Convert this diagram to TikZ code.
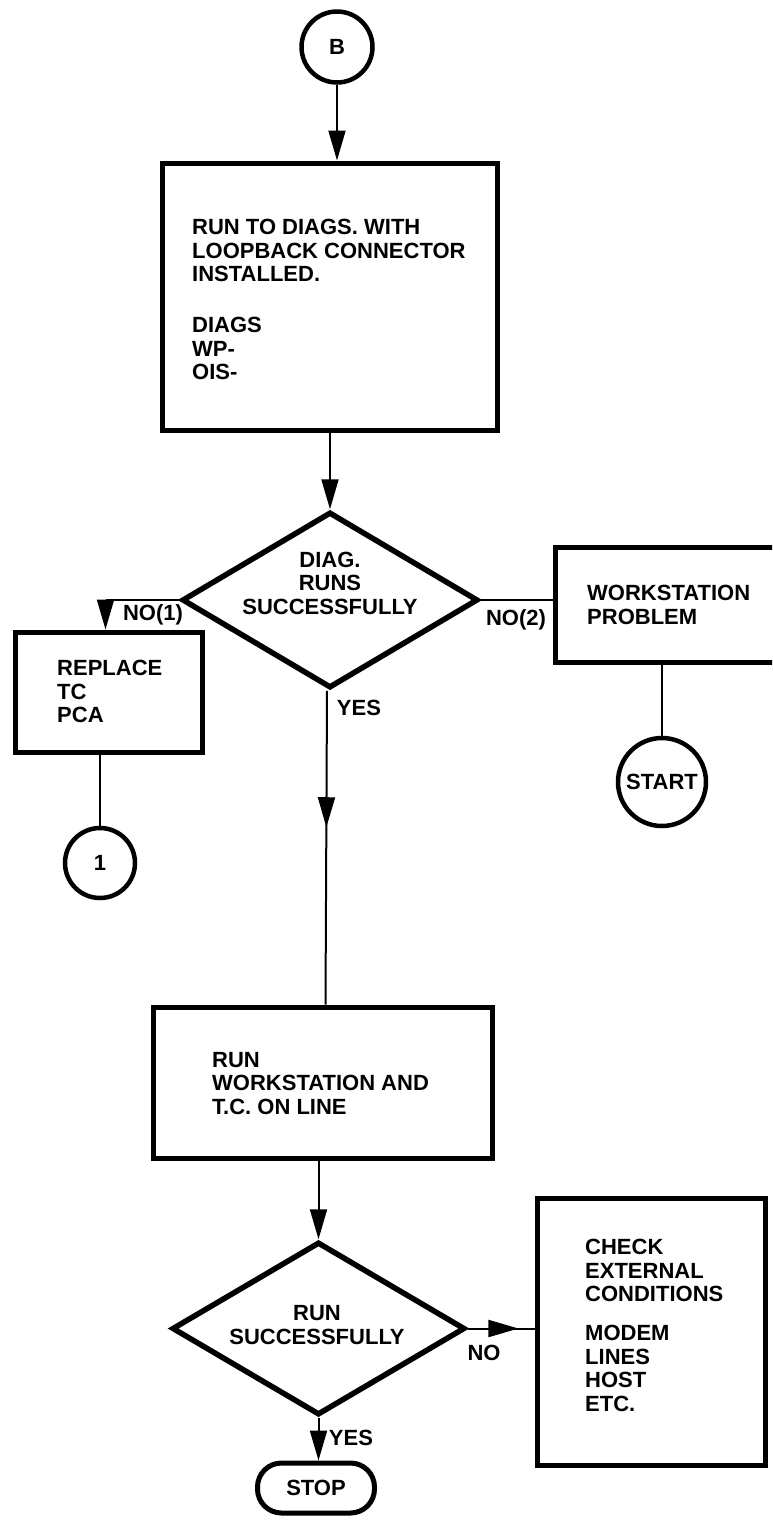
\documentclass[tikz,border=0pt]{standalone}
\usepackage{fontspec}
\setmainfont{Liberation Sans}
\usetikzlibrary{shapes.geometric,arrows.meta,decorations.markings}
\begin{document}
\begin{tikzpicture}[x=1pt,y=-1pt,
  tf/.style={font=\bfseries\fontsize{22}{23.5}\selectfont},
  txt/.style={tf, inner sep=0pt, align=left, anchor=north west},
  lbl/.style={tf, inner sep=0pt},
  boxstyle/.style={draw, line width=5pt, inner sep=0pt},
  dia/.style={diamond, draw, line width=5.5pt, inner sep=0pt},
  circ/.style={circle, draw, line width=4.5pt, inner sep=0pt, tf},
  conn/.style={line width=2pt},
  arrowconn/.style={line width=2pt, -{Triangle[length=30pt,width=17pt]}},
  midarrow/.style={line width=2pt, decoration={markings, mark=at position #1 with {\arrow{Triangle[length=30pt,width=17pt]}}}, postaction={decorate}}
]
\useasboundingbox (0,0) rectangle (772,1540);
\clip (0,0) rectangle (772,1540);

% nodes
\node[circ, minimum size=71pt] (B) at (337,47) {B};
\node[boxstyle, minimum width=335pt, minimum height=267pt] (box1) at (329.5,296.5) {};
\node[txt] (t1) at (192,219) {RUN TO DIAGS. WITH\\LOOPBACK CONNECTOR\\INSTALLED.\\[27.5pt]DIAGS\\WP-\\OIS-};

\node[dia, minimum width=296pt, minimum height=176pt] (d1) at (330,600) {};
\node[lbl, align=center] (t2) at (330,583) {DIAG.\\RUNS\\SUCCESSFULLY};

\node[boxstyle, minimum width=187pt, minimum height=120pt] (rep) at (108.5,692) {};
\node[txt] (t3) at (57,660) {REPLACE\\TC\\PCA};
\node[circ, minimum size=70pt] (c1) at (100,863) {1};

\node[boxstyle, minimum width=230pt, minimum height=115pt] (ws) at (670,604.5) {};
\node[txt] (t4) at (587,585) {WORKSTATION\\PROBLEM};
\node[circ, minimum size=88pt] (start) at (662,782) {START};

\node[boxstyle, minimum width=339pt, minimum height=151pt] (box2) at (322.5,1082.5) {};
\node[txt] (t5) at (212,1052) {RUN\\WORKSTATION AND\\T.C. ON LINE};

\node[dia, minimum width=293pt, minimum height=173pt] (d2) at (318.5,1328.5) {};
\node[lbl, align=center] (t6) at (317,1325) {RUN\\SUCCESSFULLY};

\node[boxstyle, minimum width=228pt, minimum height=267pt] (check) at (651,1331.5) {};
\node[txt] (t7) at (585,1239) {CHECK\\EXTERNAL\\CONDITIONS\\[15.5pt]MODEM\\LINES\\HOST\\ETC.};

\node[boxstyle, rounded corners=24pt, minimum width=117pt, minimum height=50pt, tf] (stop) at (316,1488) {STOP};

% labels
\node[lbl] (no1) at (153,615) {NO(1)};
\node[lbl] (no2) at (516,620) {NO(2)};
\node[lbl] (yes1) at (359,708) {YES};
\node[lbl] (no3) at (484,1353) {NO};
\node[lbl] (yes2) at (351,1438) {YES};

% connectors
\draw[arrowconn] (B.south) -- (B.south |- box1.north);
\draw[arrowconn] (box1.south -| d1.north) -- (d1.north);
\draw[arrowconn] (d1.west) -| ([xshift=-3pt]rep.north);
\draw[conn] (c1.north |- rep.south) -- (c1.north);
\draw[conn] (d1.east) -- (ws.west |- d1.east);
\draw[conn] (start.north) -- (start.north |- ws.south);
\draw[midarrow=0.435] ([xshift=-3pt]d1.south) -- ([xshift=3pt]box2.north);
\draw[arrowconn] (d2.north |- box2.south) -- (d2.north);
\draw[midarrow=0.76] (d2.east) -- (check.west |- d2.east);
\draw[arrowconn] (d2.south) -- (d2.south |- stop.north);
\end{tikzpicture}
\end{document}
